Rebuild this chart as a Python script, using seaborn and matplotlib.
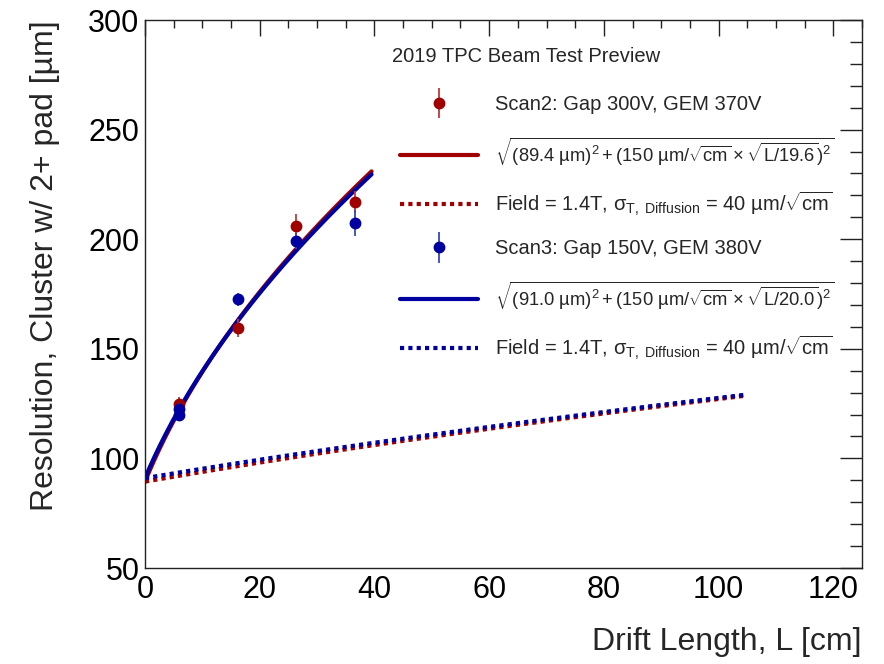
import numpy as np
import pandas as pd
import matplotlib
matplotlib.use("Agg")
import matplotlib.pyplot as plt
import seaborn as sns
from matplotlib.ticker import MultipleLocator
from matplotlib.lines import Line2D
from matplotlib.container import ErrorbarContainer
from matplotlib.legend_handler import HandlerErrorbar

# ---- data ----
scan2_x = [6.0, 16.2, 26.3, 36.6]
scan2_y = [124.8, 159.5, 206.0, 217.0]
scan2_err = [3.0, 4.0, 5.5, 5.0]

scan3_x = [6.0, 6.0, 16.2, 26.3, 36.6]
scan3_y = [122.5, 120.0, 172.5, 199.2, 207.5]
scan3_err = [3.0, 3.0, 3.0, 3.5, 6.0]

# fit parameters: sigma0 [um], length scale [cm]
fit_sigma0 = [89.4, 91.0]
fit_scale = [19.6, 20.0]
fit_coef = 150.0      # um / sqrt(cm)
diff_coef = 40.0      # um / sqrt(cm)
fit_range = [0.0, 39.5]
diff_range = [0.0, 104.5]

red = "#a00000"
blue = "#0000a0"

sns.set_theme(style="white")
plt.rcParams["font.family"] = ["Liberation Sans", "DejaVu Sans"]
plt.rcParams["mathtext.fontset"] = "custom"
plt.rcParams["mathtext.rm"] = "Liberation Sans"
plt.rcParams["mathtext.it"] = "Liberation Sans:italic"
plt.rcParams["mathtext.bf"] = "Liberation Sans:bold"
plt.rcParams["mathtext.default"] = "regular"

fig = plt.figure(figsize=(8.84, 6.64), dpi=100)
ax = fig.add_axes([145 / 884, 1 - 568 / 664, (862 - 145) / 884, (568 - 20) / 664])

def model(L, s0, scale, coef):
    L = np.asarray(L)
    return np.sqrt(s0 ** 2 + (coef * np.sqrt(L / scale)) ** 2)

rows = []
for name, s0, sc in zip(["Scan2", "Scan3"], fit_sigma0, fit_scale):
    Lf = np.linspace(fit_range[0], fit_range[1], 300)
    Ld = np.linspace(diff_range[0], diff_range[1], 300)
    rows.append(pd.DataFrame({"L": Lf, "res": model(Lf, s0, sc, fit_coef), "scan": name, "kind": "fit"}))
    rows.append(pd.DataFrame({"L": Ld, "res": model(Ld, s0, sc, diff_coef), "scan": name, "kind": "diff"}))
curves = pd.concat(rows, ignore_index=True)

for name, col in [("Scan2", red), ("Scan3", blue)]:
    d = curves[(curves.scan == name) & (curves.kind == "fit")]
    sns.lineplot(data=d, x="L", y="res", color=col, linewidth=3, ax=ax, legend=False, sort=False)
for name, col in [("Scan2", red), ("Scan3", blue)]:
    d = curves[(curves.scan == name) & (curves.kind == "diff")]
    sns.lineplot(data=d, x="L", y="res", color=col, linewidth=3, linestyle=(0, (1, 1)),
                 ax=ax, legend=False, sort=False)

e2 = ax.errorbar(scan2_x, scan2_y, yerr=scan2_err, fmt="o", color=red, ecolor="#c03838",
                 markersize=7.5, elinewidth=1.3, capsize=0, zorder=5)
e3 = ax.errorbar(scan3_x, scan3_y, yerr=scan3_err, fmt="o", color=blue, ecolor="#3848c0",
                 markersize=7.5, elinewidth=1.3, capsize=0, zorder=6)

ax.set_xlim(0, 125)
ax.set_ylim(50, 300)
ax.xaxis.set_major_locator(MultipleLocator(20))
ax.xaxis.set_minor_locator(MultipleLocator(5))
ax.yaxis.set_major_locator(MultipleLocator(50))
ax.yaxis.set_minor_locator(MultipleLocator(10))
ax.tick_params(which="both", direction="in", top=True, right=True, colors="#222222",
               labelcolor="black", width=1)
ax.tick_params(axis="x", which="major", length=11.5, labelsize=22, pad=5)
ax.tick_params(axis="x", which="minor", length=5.8)
ax.tick_params(axis="y", which="major", length=15.5, labelsize=22, pad=4)
ax.tick_params(axis="y", which="minor", length=8.5)
for s in ax.spines.values():
    s.set_color("#222222")
    s.set_linewidth(1)

ax.set_xlabel("Drift Length, L [cm]", fontsize=23, loc="right", labelpad=16)
ax.set_ylabel("Resolution, Cluster w/ 2+ pad [µm]", fontsize=23, loc="top", labelpad=20)

h_fit2 = Line2D([], [], color=red, lw=3)
h_dif2 = Line2D([], [], color=red, lw=3, linestyle=(0, (1, 1)))
h_fit3 = Line2D([], [], color=blue, lw=3)
h_dif3 = Line2D([], [], color=blue, lw=3, linestyle=(0, (1, 1)))

lab_fit2 = r"$\sqrt{(89.4\ µm)^2 + (150\ µm/\sqrt{cm} \times \sqrt{L/19.6})^2}$"
lab_fit3 = r"$\sqrt{(91.0\ µm)^2 + (150\ µm/\sqrt{cm} \times \sqrt{L/20.0})^2}$"
lab_dif = r"Field = 1.4T, $\sigma_{T,\ Diffusion}$ = 40 µm/$\sqrt{cm}$"

ax.text((392 - 145) / 717, (568 - 57) / 548, "2019 TPC Beam Test Preview",
        transform=ax.transAxes, fontsize=14.5, ha="left", va="center")

leg = ax.legend([e2, h_fit2, h_dif2, e3, h_fit3, h_dif3],
                ["Scan2: Gap 300V, GEM 370V", lab_fit2, lab_dif,
                 "Scan3: Gap 150V, GEM 380V", lab_fit3, lab_dif],
                loc="upper left", bbox_to_anchor=((400 - 145) / 717, (568 - 95) / 548),
                frameon=False, fontsize=14.5,
                handlelength=3.85, handletextpad=0.85, labelspacing=1.07,
                borderaxespad=0, borderpad=0,
                handler_map={ErrorbarContainer: HandlerErrorbar(yerr_size=0.75)})
texts = leg.get_texts()
texts[1].set_fontsize(13.2)
texts[4].set_fontsize(13.2)

fig.savefig("out.png", dpi=100)
